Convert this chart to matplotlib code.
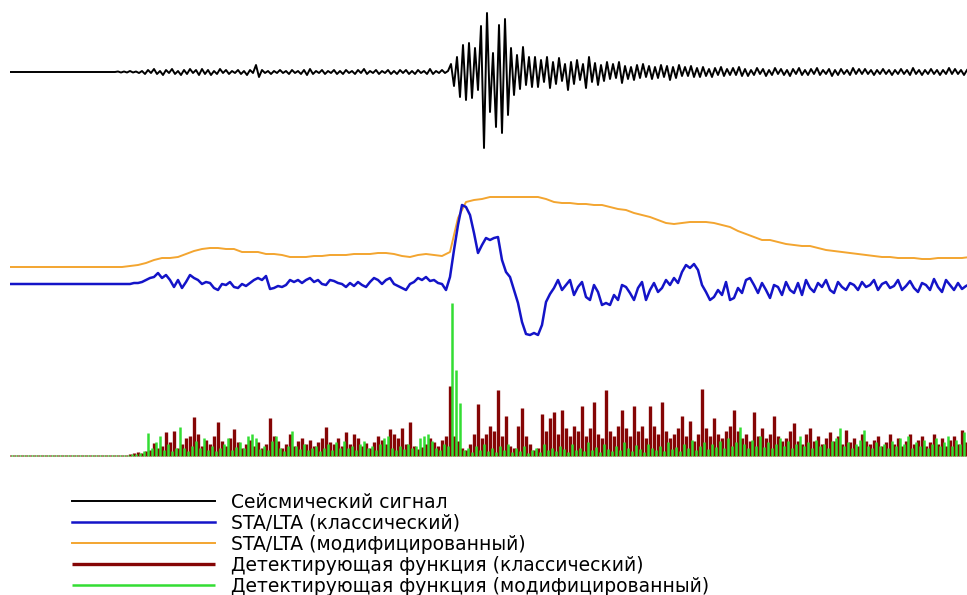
import numpy as np
import matplotlib.pyplot as plt

# Сейсмический сигнал (отсчёт каждые 3 ед. времени)
seis_quiet = [0] * 36 + [0.5, -0.5, 0.5, -0.5, 1, -0.5, 0.5, -1]
seis_pre = [1, -2, 2, -1, 3, -2, 1, -3, 2, -1,
            3, -2, 1, -3, 2, -2, 3, -1, 2, -3,
            3, -2, 2, -3, 1, -2, 3, -1, 2, -2,
            1, -1, 2, -2, 1, -3, 2, -1, 7, -5,
            2, -1, 1, -2, 1, -1, 2, -1, 1, -2,
            2, -1, 1, -2, 2, -3, 3, -2, 1, -1,
            2, -2, 1, -1, 2, -2, 1, -2, 2, -1,
            1, -2, 2, -1, 3, -2, 1, -1, 2, -2,
            1, -1, 2, -2, 1, -2, 2, -1, 2, -2,
            1, -2, 2, -1, 1, -2, 3, -2, 1, -1,
            2, -1, 1]
seis_event = [8, -14, 15, -25, 27, -28, 29, -26, 24, -18,
              46, -76, 59, -40, 19, -55, 47, -61, 53, -43,
              24, -23, 17, -17, 25, -13, 15, -15, 15, -15,
              12, -10, 15, -16, 10, -12, 14, -9, 8, -18,
              10, -12, 12, -8, 8, -16, 15, -10, 9, -13,
              7, -9, 10, -7, 8, -6, 10, -11]
seis_tail = [6, -7, 5, -8, 7, -6, 8, -5, 6, -7,
             5, -6, 7, -5, 6, -8, 5, -6, 7, -4,
             5, -4, 6, -5, 4, -5, 5, -4, 3, -5,
             4, -3, 5, -4, 3, -3, 4, -3, 5, -4,
             3, -4, 2, -3, 4, -2, 3, -4, 2, -3,
             4, -2, 3, -3, 2, -4, 3, -2, 4, -3,
             2, -3, 3, -2, 4, -3, 2, -2, 3, -4,
             2, -3, 3, -2, 2, -3, 4, -2, 3, -2,
             3, -2, 2, -3, 2, -2, 3, -2, 2, -3,
             2, -2, 3, -2, 2, -3, 4, -2, 2, -3,
             2, -2, 3, -2, 2, -3, 2, -2, 4, -2,
             3, -2, 2, -3, 2]
seismic = np.array(seis_quiet + seis_pre + seis_event + seis_tail, dtype=float)

# STA/LTA классический (шаг 4)
sta_lta_classic = [66] * 31 + [
    67, 67, 68, 70, 72, 73, 77, 72, 75, 70,
    63, 70, 62, 68, 75, 72, 70, 66, 68, 67,
    62, 60, 66, 65, 68, 63, 62, 66, 64, 67,
    70, 72, 70, 74, 61, 62, 64, 63, 65, 70,
    68, 70, 67, 70, 72, 68, 70, 66, 65, 70,
    69, 67, 66, 63, 67, 64, 68, 65, 63, 68,
    72, 70, 66, 70, 72, 66, 64, 62, 60, 66,
    68, 72, 70, 73, 69, 70, 67, 66, 60, 73,
    100, 125, 145, 143, 135, 117, 97, 105, 112, 110,
    112, 113, 90, 78, 73, 60, 47, 28, 16, 15,
    17, 15, 25, 48, 56, 62, 70, 60, 65, 70,
    55, 63, 68, 53, 50, 65, 58, 45, 47, 45,
    55, 50, 65, 63, 57, 50, 62, 68, 50, 60,
    67, 58, 62, 70, 65, 72, 67, 78, 85, 82,
    86, 80, 65, 58, 50, 53, 60, 55, 68, 50,
    52, 62, 57, 70, 72, 65, 57, 67, 60, 52,
    65, 63, 55, 68, 60, 57, 67, 55, 70, 62,
    58, 67, 63, 70, 60, 57, 68, 63, 60, 67,
    65, 60, 68, 63, 65, 70, 60, 66, 68, 62,
    64, 70, 60, 64, 69, 62, 58, 67, 65, 60,
    71, 63, 58, 70, 65, 60, 67, 61, 64, 66]

# STA/LTA модифицированный (шаг 8)
sta_lta_mod = [83] * 15 + [
    84, 85, 87, 90, 92, 92, 93, 96, 99, 101,
    102, 102, 101, 101, 98, 98, 98, 96, 96, 95,
    93, 93, 93, 94, 94, 95, 95, 95, 96, 96,
    96, 97, 97, 96, 94, 93, 95, 96, 95, 94,
    98, 132, 148, 150, 151, 153, 153, 153, 153, 153,
    153, 153, 151, 148, 147, 147, 146, 146, 145, 145,
    143, 141, 140, 137, 135, 133, 130, 127, 126, 127,
    128, 128, 128, 127, 125, 123, 119, 116, 113, 110,
    110, 108, 106, 105, 104, 104, 102, 100, 99, 98,
    97, 96, 95, 94, 93, 93, 92, 92, 92, 91,
    91, 92, 92, 92, 92, 93]

# Детектирующая функция (классический), шаг 4
det_classic = [1] * 30 + [
    2, 3, 4, 3, 5, 6, 13, 8, 10, 24,
    14, 25, 8, 12, 18, 20, 39, 22, 10, 16,
    12, 20, 34, 15, 10, 18, 27, 14, 8, 12,
    16, 10, 14, 8, 12, 38, 20, 15, 8, 12,
    22, 10, 15, 18, 12, 16, 10, 14, 18, 29,
    14, 12, 18, 10, 24, 12, 22, 18, 10, 13,
    8, 14, 20, 16, 12, 27, 22, 18, 28, 12,
    34, 10, 7, 9, 12, 18, 14, 10, 16, 20,
    70, 20, 15, 8, 6, 12, 22, 52, 18, 22,
    30, 25, 66, 20, 40, 10, 8, 30, 48, 20,
    12, 6, 8, 42, 25, 38, 44, 22, 46, 28,
    20, 30, 25, 50, 20, 28, 54, 22, 18, 66,
    25, 20, 30, 46, 28, 20, 50, 25, 30, 18,
    50, 30, 22, 54, 25, 18, 22, 28, 40, 20,
    35, 15, 22, 67, 28, 20, 38, 22, 18, 25,
    30, 46, 25, 18, 22, 15, 44, 20, 28, 18,
    22, 40, 20, 15, 18, 25, 33, 15, 12, 22,
    28, 15, 20, 12, 18, 24, 15, 20, 12, 26,
    14, 18, 10, 22, 15, 12, 16, 20, 10, 14,
    22, 12, 18, 10, 15, 22, 12, 16, 20, 10,
    14, 22, 12, 18, 10, 16, 20, 12, 26, 14, 0]

# Детектирующая функция (модифицированный), шаг 4
det_mod = [1] * 30 + [
    2, 2, 3, 5, 23, 8, 14, 20, 6, 12,
    5, 8, 29, 8, 5, 10, 15, 8, 18, 6,
    10, 5, 8, 12, 18, 6, 9, 14, 8, 20,
    22, 18, 7, 10, 6, 15, 20, 8, 5, 10,
    25, 10, 7, 12, 6, 8, 10, 5, 8, 12,
    6, 14, 8, 15, 8, 10, 6, 12, 15, 8,
    10, 6, 12, 18, 20, 8, 6, 10, 7, 12,
    8, 10, 18, 20, 22, 15, 8, 6, 12, 10,
    153, 86, 53, 6, 8, 4, 10, 6, 12, 5,
    8, 4, 10, 6, 12, 4, 8, 5, 10, 3,
    6, 8, 4, 12, 6, 8, 5, 10, 7, 4,
    12, 6, 8, 5, 14, 6, 9, 4, 12, 7,
    5, 10, 6, 14, 8, 5, 11, 7, 4, 12,
    8, 6, 10, 5, 14, 7, 9, 5, 12, 8,
    16, 6, 10, 14, 7, 12, 9, 15, 8, 18,
    10, 14, 29, 12, 8, 16, 10, 20, 9, 14,
    8, 12, 18, 10, 15, 8, 12, 20, 10, 14,
    8, 16, 10, 12, 8, 15, 18, 28, 10, 14,
    8, 12, 16, 26, 10, 8, 14, 10, 12, 8,
    15, 10, 18, 12, 20, 8, 14, 10, 16, 8,
    12, 18, 10, 14, 20, 10, 16, 12, 24, 14]

labels = ['Сейсмический сигнал',
          'STA/LTA (классический)',
          'STA/LTA (модифицированный)',
          'Детектирующая функция (классический)',
          'Детектирующая функция (модифицированный)']

# Смещения дорожек по вертикали
seis_offset = 398
sta_offset = 120
det_base = 14

t_seis = 3 * np.arange(len(seismic))
t_classic = 4 * np.arange(len(sta_lta_classic))
t_mod = 8 * np.arange(len(sta_lta_mod))
t_det_c = 4 * np.arange(len(det_classic))
t_det_m = 2 + 4 * np.arange(len(det_mod))

fig = plt.figure(figsize=(9.67, 5.95), dpi=100)
ax = fig.add_axes([10 / 967, 125 / 595, 957 / 967, 470 / 595])

h_seis, = ax.plot(t_seis, seismic + seis_offset, color='black', lw=1.4)
h_mod, = ax.plot(t_mod, np.array(sta_lta_mod) + sta_offset, color='#f3a530', lw=1.4)
h_cls, = ax.plot(t_classic, np.array(sta_lta_classic) + sta_offset, color='#1414c8', lw=1.8)
h_dc = ax.vlines(t_det_c, det_base, det_base + np.array(det_classic), color='#850505', lw=2.4)
h_dm = ax.vlines(t_det_m, det_base, det_base + np.array(det_mod), color='#33dd33', lw=1.8)

ax.set_xlim(0, 957)
ax.set_ylim(0, 470)
ax.axis('off')

fig.legend([h_seis, h_cls, h_mod, h_dc, h_dm], labels,
           loc='upper left', bbox_to_anchor=(72 / 967, 1 - 493 / 595),
           frameon=False, fontsize=13.5, handlelength=7.6,
           handletextpad=0.9, labelspacing=0.1, borderpad=0, borderaxespad=0)

fig.savefig('out.png', dpi=100)
